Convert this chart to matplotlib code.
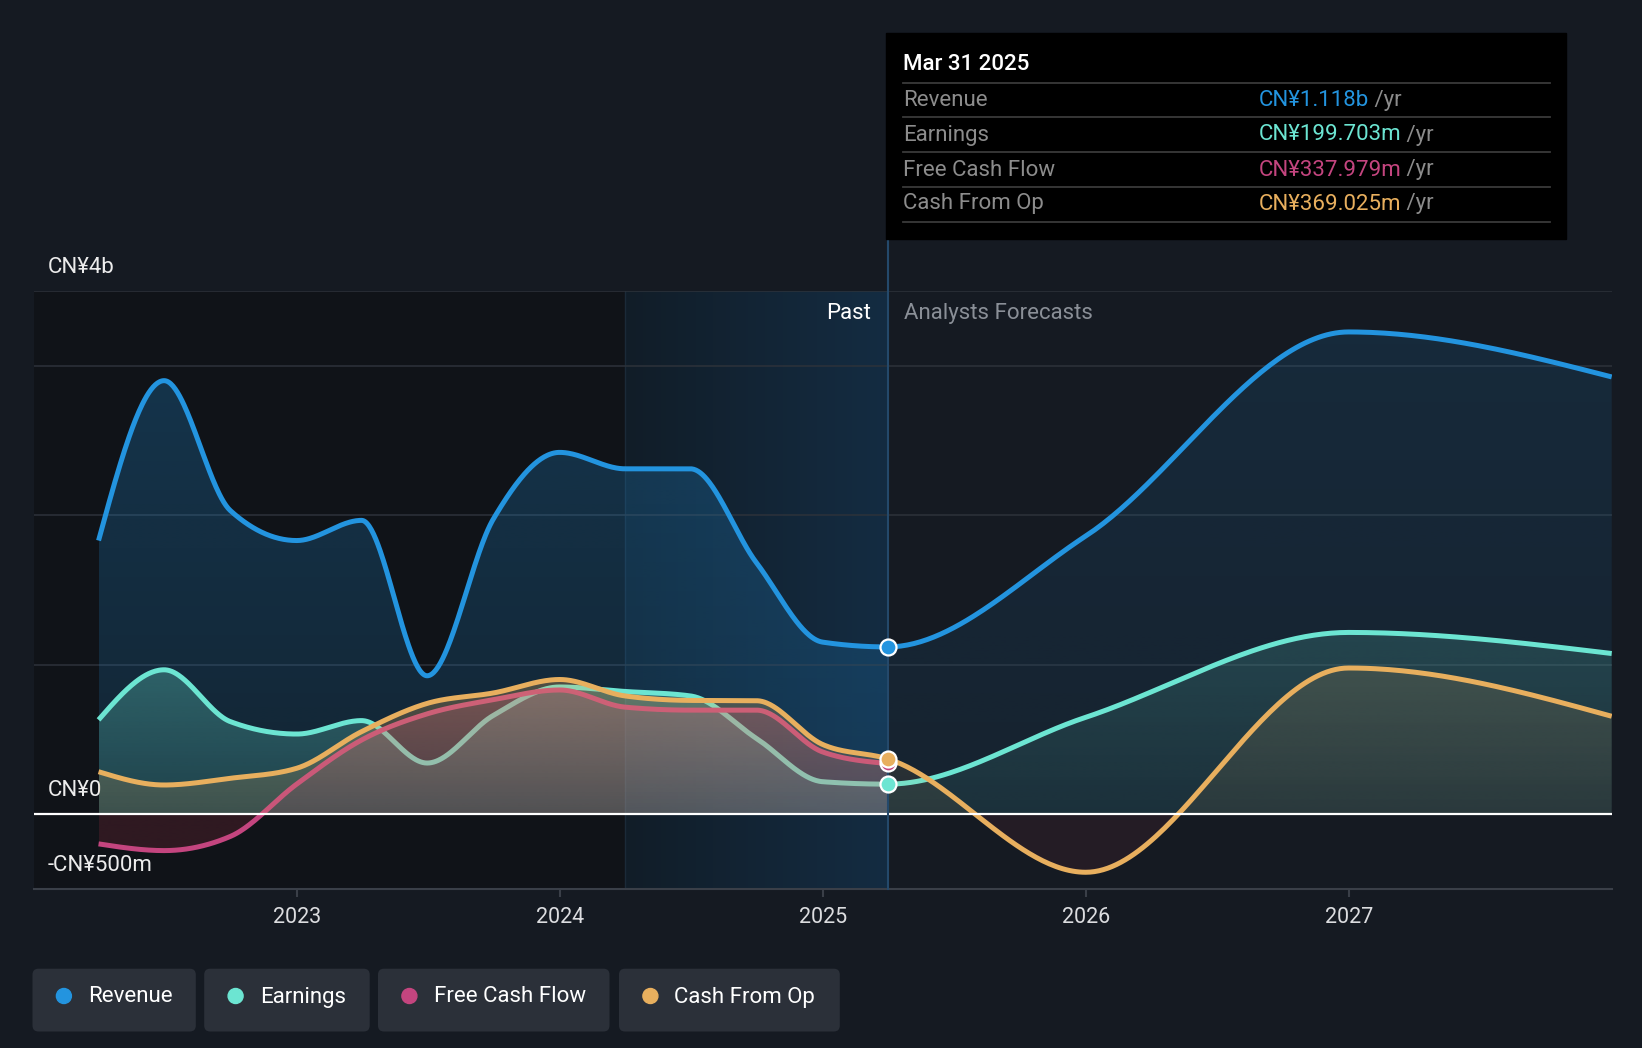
import numpy as np
import pandas as pd
import matplotlib.pyplot as plt
from matplotlib.patches import FancyBboxPatch, Circle, Rectangle
from matplotlib.colors import to_rgb

plt.rcParams['font.family'] = ['Roboto', 'DejaVu Sans']

# trailing twelve month history, CN¥ billions
past_dates = ['2022-03-31', '2022-06-30', '2022-09-30', '2022-12-31',
              '2023-03-31', '2023-06-30', '2023-09-30', '2023-12-31',
              '2024-03-31', '2024-06-30', '2024-09-30', '2024-12-31',
              '2025-03-31']
revenue_past = [1.83, 2.90, 2.03, 1.83, 1.965, 0.925, 1.975, 2.42, 2.31, 2.31, 1.68, 1.15, 1.118]
earnings_past = [0.63, 0.965, 0.618, 0.535, 0.625, 0.341, 0.66, 0.85, 0.82, 0.79, 0.505, 0.216, 0.1997]
fcf_past = [-0.20, -0.245, -0.15, 0.20, 0.495, 0.67, 0.765, 0.83, 0.715, 0.695, 0.695, 0.415, 0.338]
cfo_past = [0.283, 0.194, 0.239, 0.306, 0.551, 0.74, 0.81, 0.90, 0.79, 0.76, 0.758, 0.465, 0.369]

# analyst forecasts
forecast_dates = ['2025-12-31', '2026-12-31', '2027-12-31']
revenue_forecast = [1.86, 3.226, 2.925]
earnings_forecast = [0.647, 1.215, 1.074]
cfo_forecast = [-0.39, 0.977, 0.654]

series_names = ['Revenue', 'Earnings', 'Free Cash Flow', 'Cash From Op']
series_colors = ['#2394df', '#6ce5d2', '#c4457f', '#e8af5e']
tooltip_values = ['CN¥1.118b', 'CN¥199.703m', 'CN¥337.979m', 'CN¥369.025m']

y_labels = ['CN¥4b', 'CN¥0', '-CN¥500m']
y_label_pos = [3.5, 0.0, -0.5]
x_ticks = [2023, 2024, 2025, 2026, 2027]

BG = '#151a22'
NEG = '#d63a55'
FS = 16
W, H = 1642, 1048


def dec_year(s):
    ts = pd.Timestamp(s)
    days = 366 if ts.is_leap_year else 365
    return ts.year + ts.dayofyear / days


def monotone(x, y, n=60):
    # monotone cubic (same idea as d3 curveMonotoneX)
    x = np.asarray(x, float)
    y = np.asarray(y, float)
    h = np.diff(x)
    s = np.diff(y) / h
    t = np.zeros_like(y)
    for i in range(1, len(x) - 1):
        p = (s[i - 1] * h[i] + s[i] * h[i - 1]) / (h[i - 1] + h[i])
        t[i] = (np.sign(s[i - 1]) + np.sign(s[i])) * min(abs(s[i - 1]), abs(s[i]), 0.5 * abs(p))
    t[0] = (3 * s[0] - t[1]) / 2
    t[-1] = (3 * s[-1] - t[-2]) / 2
    xs, ys = [], []
    for i in range(len(h)):
        u = np.linspace(0, 1, n, endpoint=(i == len(h) - 1))
        h00 = 2 * u**3 - 3 * u**2 + 1
        h10 = u**3 - 2 * u**2 + u
        h01 = -2 * u**3 + 3 * u**2
        h11 = u**3 - u**2
        ys.append(h00 * y[i] + h10 * h[i] * t[i] + h01 * y[i + 1] + h11 * h[i] * t[i + 1])
        xs.append(x[i] + u * h[i])
    return np.concatenate(xs), np.concatenate(ys)


def gradient_fill(ax, x, y, top, color, a_top, a_bot, a_neg, z):
    # vertical gradient, stronger near the top of the series, red tint below zero
    bot = min(y.min(), 0.0)
    ymax = max(y.max(), 0.01)
    yy = np.linspace(bot, ymax, 300)
    alpha = np.clip(a_bot + (a_top - a_bot) * yy / top, a_bot, a_top)
    img = np.zeros((len(yy), 1, 4))
    img[..., :3] = to_rgb(color)
    img[..., 3] = alpha[:, None]
    neg = yy < 0
    img[neg, 0, :3] = to_rgb(NEG)
    img[neg, 0, 3] = a_neg
    poly = ax.fill_between(x, y, 0, facecolor='none', edgecolor='none')
    im = ax.imshow(img, extent=[x.min(), x.max(), bot, ymax], origin='lower',
                   aspect='auto', zorder=z, interpolation='bilinear')
    im.set_clip_path(poly.get_paths()[0], transform=ax.transData)


px_past = [dec_year(d) for d in past_dates]
px_fc = [dec_year(d) for d in forecast_dates]
now = px_past[-1]
band_start = px_past[-5]

fig = plt.figure(figsize=(W / 100, H / 100), dpi=100, facecolor=BG)

# main plot area
ax_left, ax_right = 33.7 / W, 1611.7 / W
ax_top, ax_bot = 1 - 291 / H, 1 - 888.7 / H
ax = fig.add_axes([ax_left, ax_bot, ax_right - ax_left, ax_top - ax_bot])
ax.set_facecolor(BG)
for sp in ax.spines.values():
    sp.set_visible(False)

ax.axvspan(2022, band_start, color='#101318', zorder=0, lw=0)
grad = np.linspace(0, 1, 200)
c0, c1 = np.array([17, 29, 40]) / 255, np.array([20, 44, 66]) / 255
band = (c0[None, :] * (1 - grad[:, None]) + c1[None, :] * grad[:, None])[None, :, :]
ax.imshow(band, extent=[band_start, now, -0.5, 3.5], aspect='auto', zorder=0.5)
ax.axvline(band_start, color='#1b2a38', lw=1, zorder=0.6)

for g in [3.5, 3, 2, 1]:
    ax.axhline(g, color='#2d323a', lw=1.1, zorder=1)
ax.axhline(-0.5, color='#3a3f48', lw=1.5, zorder=1, clip_on=False)

all_series = [
    (revenue_past + revenue_forecast, px_past + px_fc),
    (earnings_past + earnings_forecast, px_past + px_fc),
    (fcf_past, px_past),
    (cfo_past + cfo_forecast, px_past + px_fc),
]
fills = [(0.27, 0.14, 0.16), (0.34, 0.15, 0.16), (0.30, 0.15, 0.16), (0.30, 0.15, 0.16)]
for k, ((vals, xs), col, fa) in enumerate(zip(all_series, series_colors, fills)):
    sx, sy = monotone(xs, vals)
    top = max(sy.max(), 0.01)
    past = sx <= now + 1e-9
    gradient_fill(ax, sx[past], sy[past], top, col, fa[0], fa[1], fa[2], 2 + k)
    fut = sx >= now - 1e-9
    if fut.sum() > 1:
        gradient_fill(ax, sx[fut], sy[fut], top, col, fa[0] * 0.5, fa[1] * 0.5,
                      fa[2] * 0.5, 2 + k)
    ax.plot(sx, sy, color=col, lw=3.6, zorder=2.5 + k, solid_capstyle='butt')

ax.axhline(0, color='white', lw=1.6, zorder=7)
ax.plot([now, now], [-0.5, 3.85], color='#24496b', lw=1.5, zorder=7, clip_on=False)

now_vals = [revenue_past[-1], earnings_past[-1], fcf_past[-1], cfo_past[-1]]
for k in range(4):
    ax.plot(now, now_vals[k], 'o', ms=11.5, mfc=series_colors[k], mec='white', mew=1.6,
            zorder=8 + k)

ax.set_xlim(2022, 2028)
ax.set_ylim(-0.5, 3.5)
ax.set_yticks([])
ax.set_xticks(x_ticks)
ax.set_xticklabels([str(t) for t in x_ticks])
ax.tick_params(axis='x', length=6, width=1.5, color='#3a3f48', labelcolor='#dcdde0',
               labelsize=15.5, pad=7)

for lab, yv in zip(y_labels, y_label_pos):
    ax.annotate(lab, xy=(0, yv), xycoords=('axes fraction', 'data'), xytext=(10.3, 17),
                textcoords='offset points', ha='left', va='center', color='#ececec',
                fontsize=FS, annotation_clip=False)

ax.annotate('Past', xy=(now, 3.5), xytext=(-12, -16.5), textcoords='offset points',
            ha='right', va='center', color='white', fontsize=FS)
ax.annotate('Analysts Forecasts', xy=(now, 3.5), xytext=(12, -16.5), textcoords='offset points',
            ha='left', va='center', color='#8a8f97', fontsize=FS)

# overlay for tooltip and legend, in pixel units
ov = fig.add_axes([0, 0, 1, 1])
ov.set_xlim(0, W)
ov.set_ylim(H, 0)
ov.axis('off')
ov.patch.set_alpha(0)

ov.add_patch(Rectangle((886, 32.5), 679.5, 206.3, color='black', zorder=1))
ov.text(902.7, 64, 'Mar 31 2025', color='white', fontsize=FS, fontweight='medium',
        ha='left', va='center', zorder=2)
for sy in [82.7, 117.3, 151.8, 187.4, 222]:
    ov.plot([902.7, 1549.8], [sy, sy], color='#3a3a3a', lw=1.3, zorder=2)
row_y = [100.5, 135, 170, 204]
for name, val, col, ry in zip(series_names, tooltip_values, series_colors, row_y):
    ov.text(902.7, ry, name, color='#8c8c8c', fontsize=FS, ha='left', va='center', zorder=2)
    t = ov.text(1258.7, ry, val, color=col, fontsize=FS, ha='left', va='center', zorder=2)
    ov.annotate(' /yr', xy=(1, 0.5), xycoords=t, ha='left', va='center',
                color='#8c8c8c', fontsize=FS, zorder=2)

# legend chips
boxes = [(32.5, 195.8), (204.2, 369.7), (378, 609.5), (619, 839.8)]
for (x0, x1), name, col in zip(boxes, series_names, series_colors):
    ov.add_patch(FancyBboxPatch((x0, 968.7), x1 - x0, 62.8,
                                boxstyle='round,pad=0,rounding_size=6',
                                facecolor='#2b3039', edgecolor='none'))
    ov.add_patch(Circle((x0 + 31.4, 996), 7.5, color=col))
    ov.text(x0 + 55.5, 997, name, color='white', fontsize=FS, ha='left', va='center')

fig.savefig('out.png', dpi=100, facecolor=BG)
